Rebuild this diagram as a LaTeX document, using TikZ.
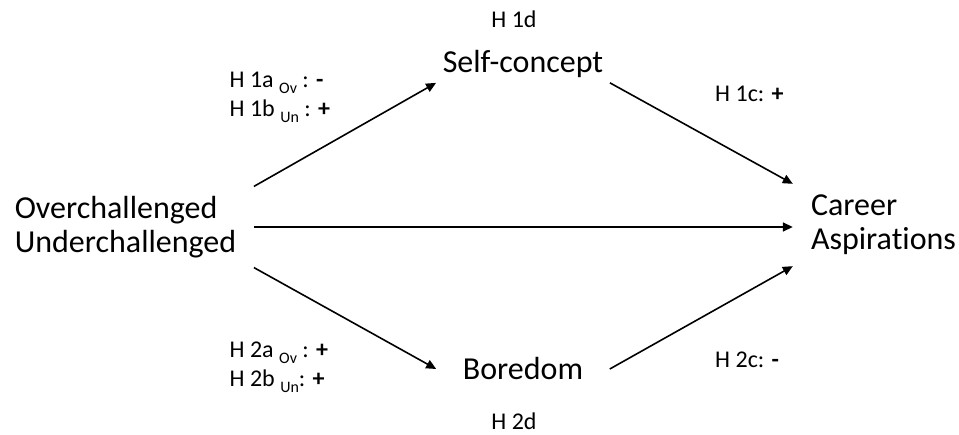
\documentclass[tikz,border=0pt]{standalone}
\usepackage{fontspec}
\setmainfont[Ligatures=NoCommon]{Carlito}
\usetikzlibrary{arrows.meta}

\newcommand{\grp}[1]{\raisebox{-6pt}{\fontsize{16}{16}\selectfont #1}}
\newcommand{\sgn}[1]{{\bfseries #1}}

\tikzset{
  construct/.style={font=\fontsize{32}{34}\selectfont, align=left},
  hyp/.style={font=\fontsize{24}{28}\selectfont, inner sep=0pt},
  effect/.style={-{Triangle[length=10pt,width=9pt]}, line width=1.6pt}
}

\begin{document}
\begin{tikzpicture}[x=1pt, y=-1pt]
            \useasboundingbox (0,0) rectangle (959,435);

            % Constructs
            \node [construct, inner xsep=17.5pt, inner ysep=9.5pt] (chal) at (125.5,227) {Overchallenged\\Underchallenged};
            \node [construct, anchor=base, inner xsep=6.5pt, inner ysep=4.5pt] (self) at (523,73) {Self-concept};
            \node [construct, anchor=base, inner xsep=26.5pt] (bore) at (523,380) {Boredom};
            \node [construct, inner xsep=18pt, inner ysep=11pt] (career) at (883.5,225) {Career\\Aspirations};

            % Paths
            \draw [effect] (chal.north east) -- (self.south west);
            \draw [effect] (self.south east) -- (career.north west);
            \draw [effect] (chal.east) -- (chal.east -| career.west);
            \draw [effect] (chal.south east) -- (bore.west);
            \draw [effect] (bore.east) -- (career.south west);

            % Hypotheses
            \node [hyp, anchor=base] (h1d) at (514,28) {H 1d};
            \node [hyp, anchor=base west] (h1a) at (229.5,88) {H 1a \grp{Ov} : \sgn{-}};
            \node [hyp, anchor=base west] (h1b) at (229.5,117) {H 1b \grp{Un} : \sgn{+}};
            \node [hyp, anchor=base west] (h1c) at (715,102) {H 1c: \sgn{+}};
            \node [hyp, anchor=base west] (h2a) at (229.5,358) {H 2a \grp{Ov} : \sgn{+}};
            \node [hyp, anchor=base west] (h2b) at (229.5,387) {H 2b \grp{Un}: \sgn{+}};
            \node [hyp, anchor=base west] (h2c) at (715,368) {H 2c: \sgn{-}};
            \node [hyp, anchor=base] (h2d) at (514,430) {H 2d};
\end{tikzpicture}
\end{document}
